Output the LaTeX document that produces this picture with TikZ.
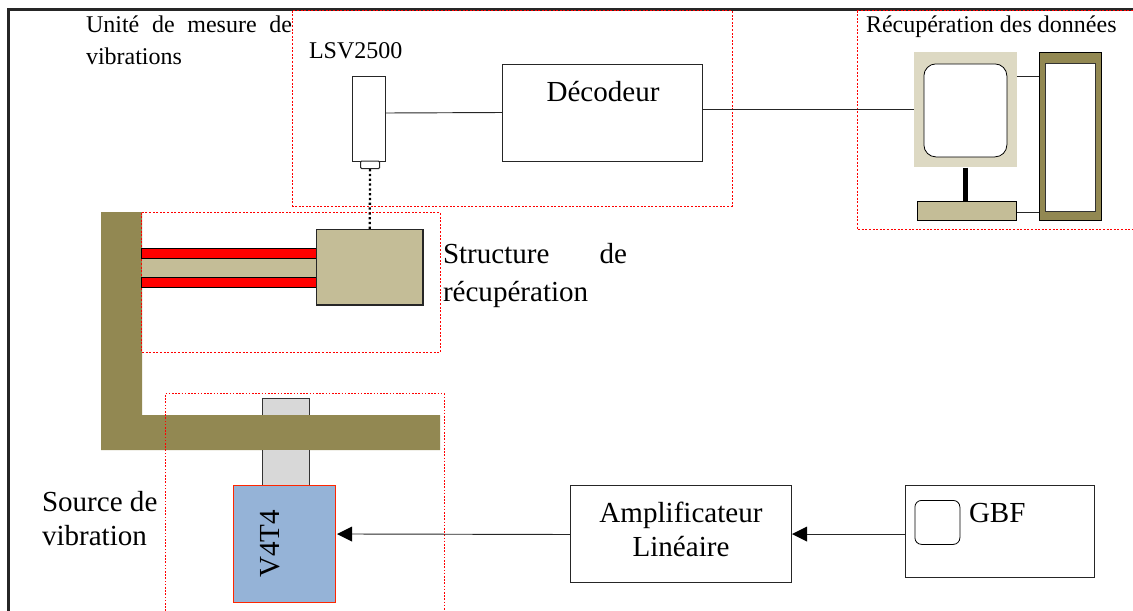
\documentclass[tikz,border=0pt]{standalone}
\usepackage{fontspec}
\setmainfont{Liberation Serif}
\definecolor{olivebar}{RGB}{146,136,82}
\definecolor{tanbox}{RGB}{196,189,151}
\definecolor{paletan}{RGB}{221,217,195}
\definecolor{bluebox}{RGB}{149,179,215}
\definecolor{greybox}{RGB}{216,216,216}
\tikzset{
  frameline/.style={draw=black!85,line width=1.6pt},
  redzone/.style={draw=red,line width=0.7pt,dash pattern=on 1.5pt off 1.2pt},
  plainbox/.style={draw=black!85,line width=0.8pt,fill=white},
  link/.style={draw=black!85,line width=0.7pt},
  lab/.style={inner sep=0pt,outer sep=0pt,anchor=north west,align=left},
  big/.style={font=\fontsize{21.8}{28.5}\selectfont},
  bigtight/.style={font=\fontsize{21.8}{26}\selectfont},
  small/.style={font=\fontsize{18}{24}\selectfont},
}
\begin{document}
\begin{tikzpicture}[x=0.75pt,y=-0.75pt]
\useasboundingbox (0,0) rectangle (1133,611);
% frame
\coordinate (fa) at (8.5,611); \coordinate (fb) at (8.5,9.5); \coordinate (fc) at (1133,9.5);
\draw[frameline] (fa) -- (fb) -- (fc);
% zones
\draw[redzone] (292.5,10.5) rectangle (732,206);
\draw[redzone] (857,10.5) -- (857,229) -- (1133,229);
\draw[redzone] (1133,10.5) -- (857,10.5);
% olive structure
\fill[olivebar] (101,212) -- (142,212) -- (142,415) -- (440,415) -- (440,450) -- (101,450) -- cycle;
\draw[redzone] (141.5,212.5) rectangle (440,352.5);
% beam
\fill[tanbox] (142,259) rectangle (317,277);
\draw[black,line width=0.7pt,fill=red] (141.5,248.5) rectangle (317,258.5);
\draw[black,line width=0.7pt,fill=red] (141.5,277) rectangle (317,287.5);
\node[draw=black!85,line width=0.8pt,fill=tanbox,inner sep=0pt,outer sep=0pt,anchor=north west,minimum width=106.5*0.75pt,minimum height=75.5*0.75pt] (mass) at (316.5,229.5) {};
% laser
\node[plainbox,inner sep=0pt,anchor=north west,minimum width=33*0.75pt,minimum height=85*0.75pt] (laser) at (352,75.5) {};
\node[plainbox,inner sep=0pt,anchor=north west,minimum width=19*0.75pt,minimum height=7.5*0.75pt,rounded corners=0.8pt] (tip) at (360,160.5) {};
\draw[black,line width=1.7pt,dash pattern=on 1.7pt off 1.9pt] (tip.south) -- (mass.north);
% decoder
\node[plainbox,inner sep=0pt,anchor=north west,minimum width=200*0.75pt,minimum height=97*0.75pt] (dec) at (502,63.5) {};
\node[lab,big,anchor=center] (declab) at (603,92) {Décodeur};
% computer
\node[fill=paletan,inner sep=0pt,anchor=north west,minimum width=102.5*0.75pt,minimum height=115.5*0.75pt] (mon) at (914,51.5) {};
\node[draw=black,line width=0.6pt,fill=white,inner sep=0pt,anchor=north west,minimum width=83*0.75pt,minimum height=93*0.75pt,rounded corners=9pt] (screen) at (923.5,63.5) {};
\node[draw=black,line width=0.8pt,fill=tanbox,inner sep=0pt,anchor=north west,minimum width=98.5*0.75pt,minimum height=19*0.75pt] (kbd) at (917,201) {};
\draw[black,line width=4pt] (mon.south) ++(0,0) coordinate (sa) (sa) -- (sa |- kbd.north);
\node[draw=black,line width=0.9pt,fill=olivebar,inner sep=0pt,anchor=north west,minimum width=62.5*0.75pt,minimum height=168*0.75pt] (tower) at (1038.5,51.5) {};
\node[draw=black!80,line width=0.7pt,fill=white,inner sep=0pt,anchor=north west,minimum width=49.5*0.75pt,minimum height=148*0.75pt] (bay) at (1045,62.5) {};
\coordinate (ta) at (1038.5,76); \coordinate (tb) at (1038.5,212);
\draw[link] (mon.east |- ta) -- (ta);
\draw[link] (kbd.east |- tb) -- (tb);
\draw[link] (laser.east |- 0,113) -- (dec.west |- 0,112.5);
\coordinate (da) at (702,109);
\draw[link] (da) -- (mon.west |- da);
% source
\node[draw=black!80,line width=0.8pt,fill=greybox,inner sep=0pt,anchor=north west,minimum width=47*0.75pt,minimum height=87*0.75pt] (rod) at (262,398) {};
\fill[olivebar] (142,415) rectangle (440,450);
\draw[red,line width=0.55pt,dash pattern=on 1.2pt off 1.2pt] (165.5,611) -- (165.5,393.5) -- (444,393.5) -- (444,611);
\node[draw=red!70!orange,line width=0.8pt,fill=bluebox,inner sep=0pt,anchor=north west,minimum width=102.5*0.75pt,minimum height=116.5*0.75pt] (shaker) at (232.5,485) {};
\node[big,rotate=90,inner sep=0pt] (v4) at (270,544) {V4T4};
% amp
\node[plainbox,inner sep=0pt,anchor=north west,minimum width=221*0.75pt,minimum height=97*0.75pt] (amp) at (570,485) {};
\node[bigtight,align=center,inner sep=0pt] (amplab) at (681,529.5) {Amplificateur\\Linéaire};
\node[plainbox,inner sep=0pt,anchor=north west,minimum width=189*0.75pt,minimum height=91.5*0.75pt] (gbf) at (904.5,485) {};
\node[draw=black,line width=0.6pt,fill=white,inner sep=0pt,anchor=north west,minimum width=45*0.75pt,minimum height=44*0.75pt,rounded corners=5pt] (knob) at (914.5,500) {};
\node[lab,big] (gbflab) at (969,503) {GBF};
% arrows
\fill[black] (337,534) -- (352,526.5) -- (352,541.5) -- cycle;
\draw[link] (amp.west |- 0,534.5) -- (352,534);
\fill[black] (792,534) -- (807,526.5) -- (807,541.5) -- cycle;
\draw[link] (gbf.west |- 0,534) -- (807,534);
% labels
\node[lab,small,text width=206*0.75pt] (t1) at (86,16) {Unité\hfill de\hfill mesure\hfill de\\vibrations};
\node[lab,small] (t2) at (309,43) {LSV2500};
\node[lab,small] (t3) at (866,16) {Récupération des données};
\node[lab,big,text width=184*0.75pt] (t4) at (443,243) {Structure\hfill de\\récupération};
\node[lab,bigtight] (t5) at (42,491) {Source de\\vibration};
\end{tikzpicture}
\end{document}
